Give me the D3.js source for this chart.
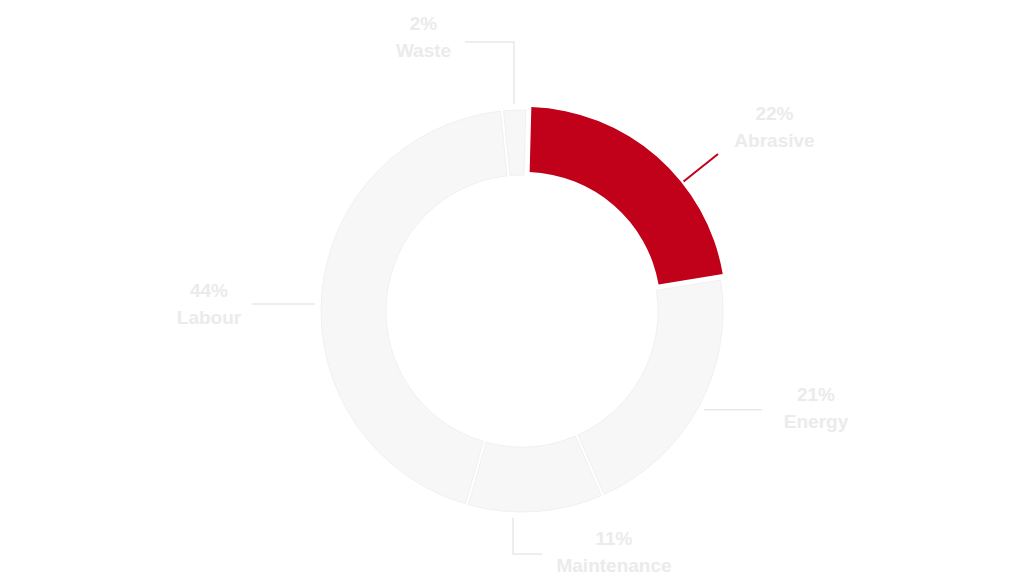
<!DOCTYPE html>
<html>
<head>
<meta charset="utf-8">
<script src="https://cdn.jsdelivr.net/npm/d3@7/dist/d3.min.js"></script>
<style>
  html, body { margin: 0; padding: 0; background: #ffffff; }
  svg { display: block; }
  text { font-family: "Liberation Sans", Arial, Helvetica, sans-serif; font-weight: bold; }
</style>
</head>
<body>
<svg id="chart" width="1024" height="583"></svg>
<script>
// ---- data ----
const categories = ["Abrasive", "Energy", "Maintenance", "Labour", "Waste"];
const shares = [22, 21, 11, 44, 2];           // percent
const shareLabels = ["22%", "21%", "11%", "44%", "2%"];
const highlighted = ["Abrasive"];

// ---- layout / style ----
const W = 1024, H = 583;
const cx = 522, cy = 311;
const rOuter = 201, rInner = 136;
const rotation = 1.5 * Math.PI / 180;
const explode = 4;
const red = "#c1001a";
const grey = "#f7f7f7";
const textColor = "#ebebeb";
const leaderColor = "#e9e9e9";
const anchorR = 207;

const labelLayout = {
  Abrasive:    { route: "radial", end: [196, -157], tx: 252.5, ty: -191 },
  Energy:      { route: "h", hx: 240, tx: 294, ty: 90 },
  Maintenance: { route: "vh", vx: -9, vy: 243, hx: 20, tx: 92, ty: 234 },
  Labour:      { route: "h", hx: -270, hy: -7, tx: -313, ty: -14 },
  Waste:       { route: "vh", vx: -8, vy: -269, hx: -57, tx: -98.5, ty: -281 }
};

const svg = d3.select("#chart");
const g = svg.append("g").attr("transform", `translate(${cx},${cy})`);

const rows = categories.map((c, i) => ({ name: c, value: shares[i], label: shareLabels[i] }));

const pie = d3.pie()
  .sort(null)
  .value(d => d.value)
  .startAngle(rotation)
  .endAngle(rotation + 2 * Math.PI);

const arcs = pie(rows);

const arc = d3.arc()
  .innerRadius(rInner)
  .outerRadius(rOuter)
  .padAngle(0.012);

g.selectAll("path.slice")
  .data(arcs)
  .join("path")
  .attr("class", "slice")
  .attr("d", arc)
  .attr("transform", d => {
    if (!highlighted.includes(d.data.name)) return null;
    const m = (d.startAngle + d.endAngle) / 2;
    return `translate(${explode * Math.sin(m)},${-explode * Math.cos(m)})`;
  })
  .attr("fill", d => highlighted.includes(d.data.name) ? red : grey)
  .attr("stroke", d => highlighted.includes(d.data.name) ? "none" : "#eeeeee")
  .attr("stroke-width", 0.8);

// leaders
function leaderPoints(d) {
  const L = labelLayout[d.data.name];
  const m = (d.startAngle + d.endAngle) / 2;
  if (L.route === "radial") {
    const [ex, ey] = L.end;
    const len = Math.hypot(ex, ey);
    return [[ex / len * anchorR, ey / len * anchorR], [ex, ey]];
  }
  if (L.route === "h") {
    let sx = anchorR * Math.sin(m), sy = -anchorR * Math.cos(m);
    if (L.hy !== undefined) {
      sy = L.hy;
      sx = Math.sign(sx) * Math.sqrt(anchorR * anchorR - sy * sy);
    }
    return [[sx, sy], [L.hx, sy]];
  }
  // vertical then horizontal
  const sign = L.vy < 0 ? -1 : 1;
  const sy = sign * Math.sqrt(anchorR * anchorR - L.vx * L.vx);
  return [[L.vx, sy], [L.vx, L.vy], [L.hx, L.vy]];
}

g.selectAll("path.leader")
  .data(arcs)
  .join("path")
  .attr("class", "leader")
  .attr("d", d => d3.line()(leaderPoints(d)))
  .attr("fill", "none")
  .attr("stroke", d => highlighted.includes(d.data.name) ? red : leaderColor)
  .attr("stroke-width", d => highlighted.includes(d.data.name) ? 2 : 1.5);

// labels
const lbl = g.selectAll("g.label")
  .data(arcs)
  .join("g")
  .attr("class", "label")
  .attr("transform", d => `translate(${labelLayout[d.data.name].tx},${labelLayout[d.data.name].ty})`);

lbl.append("text")
  .attr("text-anchor", "middle")
  .attr("font-size", 19)
  .attr("fill", textColor)
  .text(d => d.data.label);

lbl.append("text")
  .attr("text-anchor", "middle")
  .attr("y", 27)
  .attr("font-size", 19)
  .attr("fill", textColor)
  .text(d => d.data.name);
</script>
</body>
</html>
